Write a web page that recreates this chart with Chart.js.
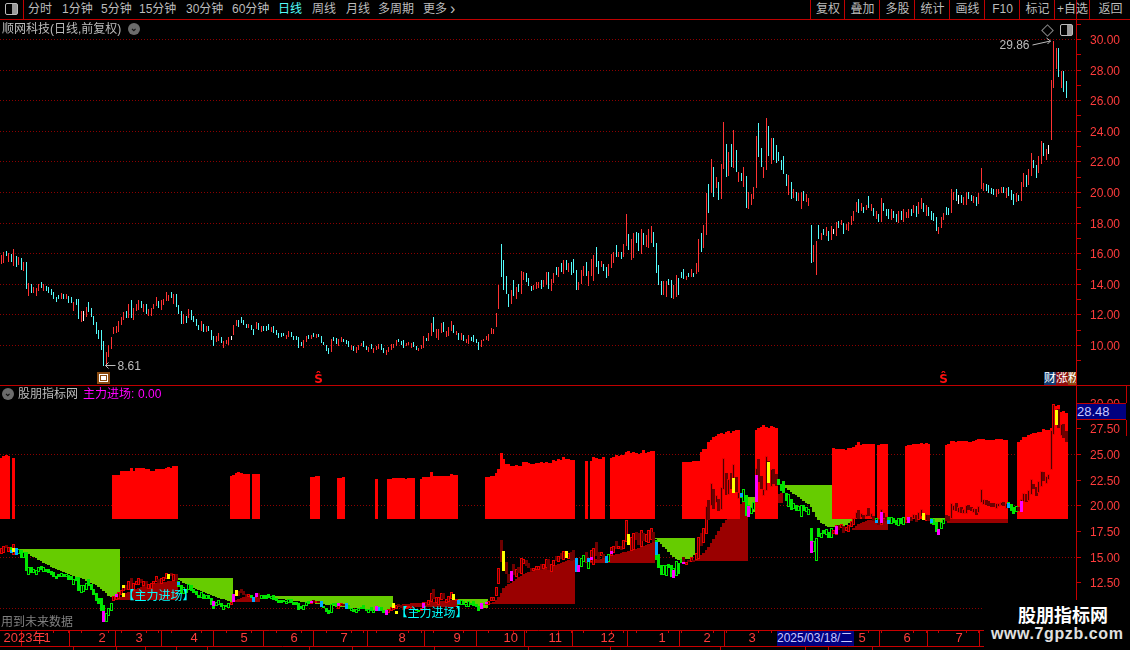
<!DOCTYPE html>
<html lang="zh"><head><meta charset="utf-8">
<script src="https://cdn.jsdelivr.net/npm/chart.js@4/dist/chart.umd.min.js"></script>
<style>
html,body{margin:0;padding:0;background:#000;overflow:hidden}
#w{position:relative;width:1130px;height:650px;background:#000;overflow:hidden;font:12px "Liberation Sans","Noto Sans CJK SC",sans-serif;color:#bcbcbc}
#w canvas{position:absolute;left:0}
.t{position:absolute;white-space:nowrap;line-height:14px}
.l{position:absolute;background:#c00000}
.c{position:absolute;width:12px;height:12px;border-radius:50%;background:#6c6c6c;color:#111;text-align:center;line-height:10px;font-size:9px;font-weight:bold}
</style></head><body><div id="w">
<canvas id="a" width="1130" height="365" style="top:20px"></canvas>
<canvas id="b" width="1130" height="264" style="top:386px"></canvas>
</div>
<script>
const high=[
15.88,16.08,16.14,15.99,15.94,16.27,15.81,15.73,15.66,15.42,
15.42,14.03,13.98,13.77,13.74,13.96,14.11,13.96,13.85,13.81,
13.64,13.48,13.16,13.30,13.40,13.33,13.35,13.20,13.11,12.81,
13.00,12.98,12.22,12.24,12.46,12.83,12.39,11.89,11.48,10.98,
10.98,10.26,9.54,10.00,10.52,11.17,11.24,11.56,11.80,12.13,
12.24,12.68,12.94,12.41,12.68,12.94,12.87,12.68,12.68,12.33,
12.41,12.68,13.13,12.87,12.92,13.00,13.46,13.26,13.46,13.33,
13.33,12.61,12.22,12.02,11.89,12.35,12.28,11.90,11.70,11.30,
11.57,11.37,11.24,11.24,10.98,10.58,10.58,10.78,10.52,10.26,
10.32,10.52,10.58,11.30,11.63,11.63,11.83,11.63,11.37,11.37,
11.30,11.04,11.50,11.43,11.24,11.24,11.24,11.37,11.17,11.24,
10.98,10.78,
10.76,10.78,10.65,10.91,10.85,10.61,10.59,10.52,10.19,10.33,
10.59,10.65,10.65,10.78,10.72,10.72,10.59,10.19,10.00,9.80,
10.39,10.52,10.46,10.39,10.52,10.37,10.35,10.26,10.00,9.93,
9.87,10.00,10.13,10.26,9.93,9.87,10.06,9.80,9.93,10.06,
10.06,9.80,9.67,9.87,10.06,10.06,10.33,10.39,10.26,10.33,
10.13,10.19,10.13,10.19,9.93,9.80,10.00,10.59,10.46,10.78,
11.44,11.83,11.04,11.04,11.44,11.50,10.91,11.17,11.57,11.31,
10.91,10.78,10.78,10.65,10.39,10.65,10.52,10.65,10.39,10.19,
10.33,10.39,10.59,10.72,11.11,11.04,12.09,13.92,16.60,15.56,
14.51,13.33,13.59,14.25,13.79,13.99,14.84,14.77,14.71,14.38,
13.86,13.90,14.12,14.12,14.25,14.25,14.77,14.77,14.31,14.71,
15.10,15.10,
15.35,15.55,15.55,15.38,15.42,15.62,14.90,14.11,14.90,15.16,
15.42,14.83,15.62,15.88,16.40,15.49,15.49,15.29,15.09,15.29,
15.94,16.07,16.53,16.07,16.07,16.60,18.56,17.25,16.92,17.32,
17.38,17.32,17.58,17.32,17.19,17.58,17.77,17.38,16.66,15.22,
14.18,14.18,14.18,14.31,14.24,13.92,14.57,14.40,14.77,14.96,
14.51,14.70,14.96,14.70,15.35,16.92,17.32,17.84,19.93,20.52,
22.15,21.63,20.98,20.65,21.83,24.57,23.13,22.61,23.13,24.05,
22.74,21.30,21.24,21.63,21.04,20.00,19.87,20.32,23.66,24.51,
22.87,21.63,24.83,24.31,23.53,23.53,23.07,22.60,22.09,22.35,
21.17,21.11,20.65,20.19,20.00,19.93,20.00,20.06,19.87,19.60,
17.84,16.53,16.79,17.84,17.32,17.58,17.71,17.45,17.77,17.58,
18.04,18.10,
18.17,17.98,17.91,18.04,18.43,18.76,19.35,19.55,19.28,19.02,
19.15,19.74,19.22,18.96,18.76,18.57,19.61,19.28,18.89,18.89,
18.89,18.76,18.57,18.76,18.76,18.89,18.70,18.89,18.89,19.15,
19.09,19.35,19.61,19.28,19.15,19.02,18.76,18.63,18.37,17.71,
18.37,18.63,19.02,18.96,20.20,20.00,20.20,19.81,19.81,19.68,
20.00,20.00,19.81,19.74,19.68,19.94,21.57,20.59,20.53,20.46,
20.25,20.20,20.20,20.20,20.33,20.33,20.26,20.33,20.13,19.87,
19.94,19.81,20.66,21.25,21.11,21.51,22.55,22.10,21.77,22.36,
23.34,23.21,22.81,23.08,27.30,29.86,29.40,29.39,27.93,27.90,
27.26];
const low=[
15.29,15.38,15.84,15.44,15.44,15.16,15.12,15.23,14.90,14.86,
13.64,13.22,13.37,13.42,13.22,13.55,13.74,13.55,13.53,13.42,
13.26,12.98,12.83,13.00,12.98,13.00,12.98,12.72,12.76,12.22,
12.61,11.70,11.50,11.57,11.80,12.18,11.80,11.30,10.71,10.37,
9.67,8.61,8.62,9.19,9.76,10.71,10.76,10.85,11.30,11.63,
11.78,11.78,11.74,11.63,12.22,12.28,12.44,12.15,12.02,11.89,
11.89,12.37,12.55,12.41,12.31,12.59,12.87,12.87,13.09,12.68,
12.50,12.04,11.37,11.37,11.43,11.74,11.63,11.50,11.24,10.98,
10.93,10.87,10.87,10.89,10.32,9.93,10.21,10.26,10.13,9.80,
10.06,9.97,10.32,10.65,11.24,11.17,11.43,11.30,11.11,11.11,
10.98,10.65,11.02,10.98,10.85,10.91,10.91,10.98,10.85,10.78,
10.67,10.48,
10.52,10.57,10.39,10.54,10.50,10.33,10.30,9.80,9.93,9.78,
10.19,10.37,10.37,10.50,10.46,10.52,10.13,10.00,9.61,9.41,
9.54,10.26,10.06,9.93,10.19,10.17,10.05,9.87,9.67,9.58,
9.48,9.67,9.93,9.87,9.67,9.54,9.74,9.48,9.67,9.74,
9.67,9.48,9.35,9.54,9.67,9.80,9.93,10.19,10.00,9.80,
9.93,10.00,9.80,9.87,9.67,9.61,9.74,9.80,10.26,10.26,
10.59,10.85,10.46,10.33,10.78,10.85,10.52,10.59,10.91,10.78,
10.65,10.33,10.33,10.26,10.13,10.06,10.26,10.19,10.13,9.67,
9.87,10.26,10.33,10.26,10.72,10.72,11.17,12.35,14.44,13.59,
13.33,12.48,12.68,13.20,13.01,13.46,13.33,14.25,14.12,13.86,
13.53,13.60,13.66,13.72,13.66,13.79,13.92,13.66,13.53,14.05,
14.57,14.44,
14.74,14.64,14.90,14.77,14.57,14.68,13.59,13.59,13.98,14.51,
14.51,13.85,14.51,14.18,15.09,14.64,15.09,14.83,14.37,14.51,
15.03,15.35,15.75,15.75,15.62,15.75,16.47,16.20,15.55,15.68,
16.66,16.14,15.94,16.53,16.40,16.34,16.66,16.40,14.70,13.92,
13.26,13.26,13.15,13.92,13.07,13.00,13.15,13.30,14.37,14.31,
14.24,14.44,14.44,14.44,14.64,14.77,16.07,16.34,17.19,18.62,
19.93,19.67,20.26,19.47,19.54,21.50,20.98,21.04,21.63,21.56,
21.30,20.65,20.71,20.32,18.95,18.88,19.15,19.54,20.26,22.28,
21.63,20.91,21.43,22.35,21.83,22.09,21.89,22.00,21.43,21.17,
20.39,19.80,19.54,19.60,19.41,19.41,18.88,19.41,19.34,19.08,
15.35,15.42,14.57,16.92,16.86,17.19,17.12,16.79,16.86,17.25,
17.12,17.64,
17.82,17.26,17.52,17.45,17.85,18.11,18.70,18.63,18.76,18.63,
18.83,18.96,18.76,18.43,18.24,18.04,18.04,18.76,18.43,18.24,
18.17,18.30,18.04,17.98,18.17,18.04,18.30,18.30,18.43,18.63,
18.37,18.57,18.89,18.70,18.43,18.43,18.17,18.11,17.45,17.26,
17.65,18.17,18.50,18.50,18.63,19.48,19.41,19.22,19.28,19.15,
19.15,19.55,19.41,19.28,19.09,19.22,20.20,20.07,20.07,19.94,
19.85,19.81,19.68,19.87,19.94,19.94,19.61,19.74,19.48,19.15,
19.35,19.41,19.41,20.33,20.33,20.46,21.05,21.57,20.92,21.25,
21.83,22.36,22.10,22.49,23.40,26.82,28.04,27.54,26.78,26.56,
26.17];
const tone=(
"rrcrcrcrcr"+"crcrrrcrcc"+"ccccrcrccr"+"ccrwrccccc"+"ccrrrrrrrr"+"crcrrrcrcr"+"rrrcrrrrcr"+"cccrcrcccc"+"rcrcccrrcr"+"rrwrrccccr"+"ccrcrcccrc"+"cc"+
"ccrrcccccr"+"rcrcrccccc"+"rccrrcccrc"+"rrrccrcrrr"+"ccrrrrrccc"+"rrrccrrrcr"+"rcrrrcrrrc"+"rcrcrrcccc"+"rrrrrrrrcc"+"ccrcrcrrcc"+"crrrcrrcrr"+"cr"+
"crcrcccrrr"+"crrrccrccr"+"rrcrcrrcrr"+"ccrcrrrccc"+"crrccrrccc"+"rcrcrrcrrc"+"rcrcrrcrcr"+"crcrcrrrrc"+"crrcrccccc"+"crcrcrrcrr"+"crrcrcrcrw"+"rc"+
"rcrrrrrcrc"+"rcrcrcrccc"+"rccrcrrrcr"+"crrcrccccr"+"rrccrrcwcr"+"rccrcrrrcc"+"ccrrrcrccc"+"rcrrcrrccr"+"rcrwrrrcrc"+"c").split("");

const columnBase=18.67;
const redRuns=[
[0,[24.6,24.8,24.9,24.8]],[5,[24.6]],
[45,[22.95,22.95,23.0,23.34,23.34,23.34,23.34,23.64,23.34,23.6,23.64,23.64,23.6,23.54,23.54,23.37,23.37,23.54,23.54,23.54,23.54,23.67,23.76,23.67,23.83,23.83]],
[92,[22.86,22.95,23.12,23.22,23.12,23.05,23.05,23.05]],[101,[23.05,23.05,23.05]],
[124,[22.76,22.76,22.86,22.86]],[135,[22.66,22.66,22.76]],[150,[22.56]],
[155,[22.56,22.56,22.66,22.66,22.66,22.66,22.66,22.56,22.66,22.66,22.66]],
[168,[22.53,22.8,22.8,22.8,23.25,22.86,22.9,22.9,22.86,22.86,22.86,22.9,23.05,22.95,22.95]],
[194,[22.79,22.79,22.85,22.85,23.11,23.54,25.06,24.51,24.02,24.02,23.83,23.83,23.92,23.83,23.83,24.18,24.18,24.1,24.05,24.05,24.1,24.12,24.18,24.12,24.25,24.1,24.1,24.41,24.3,24.5,24.41,24.67,24.5,24.55,24.45,24.41]],
[234,[24.31]],[236,[24.31,24.74,24.57,24.51,24.51,24.67]],
[244,[24.57,24.74,24.9,24.8,24.9,24.9,25.22,25.29,25.06,25.22,25.06,25.0,25.06,25.39,25.13,25.19,25.26,25.29]],
[273,[24.25,24.25,24.25,24.25,24.35,24.35,24.35,25.22,25.45,25.45,26.2,26.4,26.7,26.8,26.9,27.0,26.9,27.1,27.2,27.0,27.2,27.3,27.3]],
[302,[27.3,27.5,27.6,27.8,27.6,27.5,27.7,27.6,27.5]],
[333,[25.55,25.5,25.5,25.5,25.49,25.4,25.55,25.6,25.72,25.9,26.14,25.88,25.95,25.98,25.98,25.98,25.98]],
[351,[25.9,26.0,25.98,25.95]],
[362,[25.81,25.88,25.88,25.94,25.98,25.94,26.04,25.98,26.04,25.98]],
[378,[25.91,25.98,26.27,26.24,26.2,26.24,26.24,26.27,26.24,26.17,26.2,26.24,26.37,26.43,26.43,26.43,26.4,26.33,26.37,26.4,26.43,26.43,26.43,26.4,26.4]],
[407,[26.2,26.37,26.63,26.69,26.82,26.92,27.01,27.01,27.18,27.18,27.44,27.34,27.34,27.5,29.77,29.68,29.77,29.13,29.22,28.96]]
];
const greenRuns=[
[7,15.74,[15.71,15.61,15.48,15.39,15.25,15.09,14.96,14.83,14.67,14.54,14.41,14.28,14.15,14.02,13.86,13.76,13.66,13.57,13.47,13.37,13.27,13.21,13.14,13.05,12.95,12.89,12.79,12.66,12.56,12.46,12.33,12.20,12.07,11.88,11.65,11.42,11.20,11.03,10.90,10.81,10.77]],
[71,12.92,[12.72,12.59,12.46,12.33,12.20,12.07,11.94,11.85,11.75,11.65,11.55,11.46,11.36,11.26,11.16,11.07,11.00,10.90,10.84,10.77,10.68,10.61]],
[104,11.16,[11.10,11.08,11.05,11.03,10.99,10.96,10.92,10.90,10.88,10.84,10.80,10.77,10.75,10.71,10.68,10.65,10.62,10.58,10.55,10.52,10.48,10.45,10.44,10.40,10.37,10.35,10.30,10.28,10.25,10.22,10.18,10.15,10.13,10.10,10.08,10.05,10.03,10.00,9.98,9.96,9.93,9.92,9.90,9.88,9.85,9.85,9.83,9.82,9.80,9.80,9.78,9.78,9.77]],
[183,10.87,[10.81,10.71,10.61,10.51,10.42,10.32,10.22,10.13,10.06,10.00,9.96,9.96]],
[262,16.81,[16.68,16.46,16.23,15.97,15.71,15.45,15.19,14.96,14.80,14.67,14.67,14.67,14.74,14.80,14.93,15.16]],
[299,20.84,[19.87,19.70,19.38]],
[313,21.98,[21.82,21.66,21.49,21.30,21.11,20.98,20.78,20.59,20.46,20.26,20.10,19.81,19.38,18.90,18.57,18.31,18.15,18.02,17.92,17.89,17.86,17.86,17.89,17.92,17.99,18.12,18.31,18.51]],
[372,18.80,[18.5,18.45,18.41,18.41,18.41,18.5,18.6]]
];
const darkRuns=[
[47,10.77,[10.94,11.10,11.26,11.42,11.59,11.68,11.81,11.88,11.98,12.04,12.11,12.17,12.24,12.27,12.33,12.40,12.46,12.50,12.53,12.56,12.59,12.63,12.66,12.69]],
[93,10.55,[10.64,10.77,10.90,11.00,11.10,11.10,11.10,11.10,11.10,11.10,11.10]],
[157,10.13,[10.2,10.25,10.29,10.33,10.37,10.40,10.43,10.45,10.47,10.49,10.52,10.53,10.55,10.57,10.60,10.61,10.63,10.66,10.68,10.70,10.72,10.74,10.77,10.80,10.84,10.90]],
[195,10.38,[10.45,10.51,10.61,10.77,11.10,11.49,11.91,12.14,12.33,12.46,12.59,12.79,12.98,13.14,13.31,13.44,13.50,13.53,13.60,13.66,13.76,13.83,13.89,13.92,13.99,14.02,14.09,14.15,14.25,14.35,14.48,14.54,14.64,14.70,14.74]],
[234,14.38,[14.61,14.64,14.67,14.70,14.74,14.77,14.80,14.83,14.90,14.96,15.09,15.16,15.22,15.29,15.35,15.42,15.48,15.55,15.61,15.71,15.77,15.87,15.94,16.03,16.10,16.20,16.29,16.39]],
[278,14.61,[14.93,15.0,15.16,15.39,15.65,15.97,16.29,16.68,17.11,17.53,17.92,18.24,18.57,18.83,19.09,19.35,19.61,19.87,20.13,20.35,20.58]],
[302,20.26,[20.6,20.7,20.8,20.85,20.9,20.95,21.0,21.05,21.1,21.15,21.17]],
[341,17.60,[17.83,17.99,18.15,18.28,18.38,18.48,18.54,18.60,18.64,18.67,18.70,18.70,18.67,18.64]],
[379,18.31,[18.7,18.7,18.72,18.75,18.75,18.78,18.78,18.8,18.8,18.78,18.8,18.8,18.82,18.85,18.85,18.85,18.82,18.8,18.8,18.82,18.85,18.85,18.85,18.82]]
];
const yellowMarks=[[5,15.48,15.81],[49,11.91,12.24],[49,11.10,11.42],[67,12.85,13.31],[94,11.16,11.75],[157,9.96,10.45],[158,9.41,9.73],[181,10.77,11.36],[201,13.63,15.55],[226,14.87,15.55],[251,16.13,17.20],[293,21.20,22.66],[307,22.14,24.18],[369,18.57,19.22],[422,27.83,29.29]];
const magentaMarks=[[41,8.66,9.70],[46,11.03,11.36],[85,10.22,10.68],[93,10.61,11.36],[102,11.03,11.42],[124,10.45,10.68],[135,10.22,10.45],[150,9.73,10.19],[154,9.31,9.80],[169,9.96,10.45],[192,9.90,10.45],[194,10.38,10.61],[204,12.66,13.60],[231,13.53,14.18],[236,14.67,14.99],[244,15.26,15.55],[269,12.92,13.70],[273,14.25,14.51],[299,18.83,19.93],[302,20.35,22.95],[324,15.33,16.53],[334,17.18,18.02],[352,18.25,19.38],[363,18.25,18.83],[375,17.11,17.70],[408,19.38,20.42]];
const blueMarks=[[4,15.39,15.64],[6,15.16,15.81],[71,12.24,12.56],[101,10.61,11.10],[128,10.13,10.68],[138,9.90,10.45],[151,9.73,10.13],[183,10.38,10.77],[230,13.53,14.83],[235,14.51,14.83],[242,14.41,15.09],[262,15.16,16.46],[296,20.77,21.16],[350,18.25,18.57],[355,18.18,18.57],[372,18.25,18.64],[403,19.77,20.20]];
const topTicks=[9,10,11,12,13,14,15,16,17,18,19,20,21,22,23,24,25,26,27,28,29,30,31];
const topLabels=[10,12,14,16,18,20,22,24,26,28,30];
const lowTicks=[10,12.5,15,17.5,20,22.5,25,27.5,30];
const lowGrid=[10,15,20,25];
const monthIndex=[0,16,38,53,75,95,115,135,158,180,200,218,239,262,280,298,342,360,381];
const monthLabel=["2023年","1","2","3","4","5","6","7","8","9","10","11","12","1","2","3","5","6","7"];
const weekIndex=[21,27,32,43,48,58,63,68,80,85,90,100,105,110,120,125,130,140,145,150,163,168,173,185,190,195,205,210,223,228,233,244,249,254,267,272,285,290,303,308,347,352,365,370,375,386,391];
const signalIndex=[127,377];
const entryIndex=[63,172];
const entryPrice=[11.27,9.61];
const toolLeft=[[28,"分时"],[62,"1分钟"],[101,"5分钟"],[139,"15分钟"],[186,"30分钟"],[232,"60分钟"],[278,"日线"],[312,"周线"],[346,"月线"],[378,"多周期"],[423,"更多"]];
const toolRight=["复权","叠加","多股","统计","画线","F10","标记","+自选","返回"];
const toolEdges=[810,844,879,914,949,984,1019,1054,1089,1130];

const N=high.length;
const redTop=new Array(N).fill(null);
redRuns.forEach(([s,v])=>v.forEach((p,k)=>{redTop[s+k]=p}));
const RED="#c80000",AX="#ff3c3c",DOT="#8c0000";
const snap=(fx)=>function(s){if(s._snap)return;s._snap=1;const o=s.getPixelForValue.bind(s);s.getPixelForValue=(v,i)=>fx(o(v,i));};
const snapX=snap(p=>Math.floor(p)+.5),snapY=snap(p=>Math.round(p));
const zero=s=>{s.paddingLeft=s.paddingRight=s.paddingTop=s.paddingBottom=0};
const xScale=(extra)=>Object.assign({type:"linear",offset:false,min:-0.52,max:-0.52+1076/2.5,afterDataLimits:snapX},extra);
const bar=(data,w,color,order,extra)=>Object.assign({data,backgroundColor:color,grouped:false,barPercentage:3,categoryPercentage:1,maxBarThickness:w,borderWidth:0,order},extra||{});
const marks=(list)=>list.map(([i,a,b])=>({x:i,y:[a,b]}));
const baseOpts={responsive:false,animation:false,devicePixelRatio:1,events:[],layout:{padding:0},plugins:{legend:{display:false},tooltip:{enabled:false},title:{display:false}}};
const yAxis=(min,max,ticks,isGrid,isLabel)=>({position:"right",min,max,afterDataLimits:snapY,
 afterBuildTicks(s){s.ticks=ticks.map(v=>({value:v}))},afterFit(s){s.width=54;zero(s)},
 border:{color:RED,width:1,dash:[1,2]},
 grid:{color:c=>isGrid(c.tick.value)?DOT:"rgba(0,0,0,0)",lineWidth:1,tickColor:RED,tickLength:5,drawTicks:true},
 ticks:{color:AX,padding:9,labelOffset:2,autoSkip:false,font:{family:"Liberation Sans",size:12},callback:v=>isLabel(v)?v.toFixed(2):""}});

/* ---------- upper candles ---------- */
const toneColor={r:"#ff3232",c:"#54fcfc",w:"#ffffff"};
const annot={id:"annot",afterDatasetsDraw(ch){
 const c=ch.ctx,x=ch.scales.x,y=ch.scales.y;c.save();
 c.font='12px "Liberation Sans"';c.fillStyle="#bcbcbc";c.strokeStyle="#bcbcbc";c.lineWidth=1;
 const lo=low.indexOf(Math.min(...low)),hi=high.indexOf(Math.max(...high));
 const ly=y.getPixelForValue(low[lo])-0.5,lx=x.getPixelForValue(lo);
 c.textAlign="left";c.textBaseline="middle";c.fillText(low[lo].toFixed(2),lx+14,ly+1);
 c.beginPath();c.moveTo(lx+12,ly);c.lineTo(lx+2,ly);c.moveTo(lx+5,ly-3);c.lineTo(lx+2,ly);c.lineTo(lx+5,ly+3);c.stroke();
 const hy=y.getPixelForValue(high[hi]),hx=x.getPixelForValue(hi);
 c.textAlign="right";c.fillText(high[hi].toFixed(2),hx-24,hy+5);
 c.beginPath();c.moveTo(hx-21,hy+4);c.lineTo(hx-3,hy);c.moveTo(hx-7,hy-3);c.lineTo(hx-3,hy);c.lineTo(hx-6,hy+3);c.stroke();
 c.fillStyle="#ff1010";c.font='bold 12px "DejaVu Sans"';c.textAlign="center";
 signalIndex.forEach(i=>c.fillText("Ŝ",x.getPixelForValue(i),ch.chartArea.bottom-5));
 const sx=Math.floor(lx)-6,sy=ch.chartArea.bottom-13;
 c.fillStyle="#8a4a10";c.fillRect(sx,sy,13,12);c.fillStyle="#fff";c.fillRect(sx+2,sy+2,9,8);c.fillStyle="#8a4a10";c.fillRect(sx+3,sy+3,7,6);c.fillStyle="#fff";c.fillRect(sx+4,sy+4,5,4);
 c.restore();}};
new Chart(document.getElementById("a"),{type:"bar",plugins:[annot],
 data:{datasets:[bar(high.map((h,i)=>({x:i,y:[low[i],h]})),1,tone.map(t=>toneColor[t]),1)]},
 options:Object.assign({},baseOpts,{scales:{x:xScale({display:false}),
  y:yAxis(30-(385-39)/15.3,30+(39-20)/15.3,topTicks,v=>topLabels.includes(v)&&v<=30,v=>topLabels.includes(v))}})});

/* ---------- lower indicator ---------- */
const solid=tone.map(t=>t==="c");
const candleBorder=redTop.map((v,i)=>v!==null?(solid[i]?"#6e0000":"#e60000"):"#00e600");
const candleFill=redTop.map((v,i)=>v!==null?(solid[i]?"#6e0000":"#4a0000"):(solid[i]?"#00e600":"#000000"));
const lowAnnot={id:"lowAnnot",afterDatasetsDraw(ch){
 const c=ch.ctx,x=ch.scales.x,y=ch.scales.yb;c.save();
 c.fillStyle="#00ffff";c.textAlign="center";c.textBaseline="middle";
 entryIndex.forEach((i,k)=>{const px=x.getPixelForValue(i),py=y.getPixelForValue(entryPrice[k]);
  c.font='12px "Noto Sans CJK SC"';c.fillText("主力进场",px,py);
  c.font='bold 12px "Noto Sans CJK SC"';c.fillText("【",px-30,py);c.fillText("】",px+30,py);});
 c.restore();},
 afterDraw(ch){const c=ch.ctx,x=ch.scales.x,b=ch.chartArea.bottom;c.save();c.strokeStyle=RED;c.beginPath();
  weekIndex.forEach(i=>{const p=x.getPixelForValue(i);c.moveTo(p,b);c.lineTo(p,b+3);});
  c.moveTo(0,b+16.5);c.lineTo(1130,b+16.5);c.stroke();c.restore();}};
new Chart(document.getElementById("b"),{type:"bar",plugins:[lowAnnot],
 data:{datasets:[
  bar(marks(yellowMarks),3,"#ffff00",1,{yAxisID:"yb"}),
  bar(marks(magentaMarks),3,"#ff00ff",1,{yAxisID:"yb"}),
  bar(marks(blueMarks),3,"#00a8ff",1,{yAxisID:"yb"}),
  bar(high.map((h,i)=>({x:i,y:[low[i],h]})),3,candleFill,2,{yAxisID:"yb",borderColor:candleBorder,borderWidth:1,borderSkipped:false}),
  bar(redTop.map((v,i)=>({x:i,y:v===null?null:[columnBase,v]})).filter(d=>d.y),3,"#ff0000",3,{yAxisID:"yb"}),
  bar(darkRuns.flatMap(([s,b,t])=>t.map((v,k)=>({x:s+k,y:[b,v]}))),3,"#9a0000",4,{yAxisID:"yb"}),
  bar(greenRuns.flatMap(([s,t,b])=>b.map((v,k)=>({x:s+k,y:[v,t]}))),3,"#66cc00",5,{yAxisID:"yb"})
 ]},
 options:Object.assign({},baseOpts,{scales:{
  x:xScale({position:"bottom",afterBuildTicks(s){s.ticks=monthIndex.map(v=>({value:v}))},afterFit(s){s.height=20;zero(s)},
   border:{color:RED,width:1},grid:{drawOnChartArea:false,tickColor:RED,tickLength:16},
   ticks:{color:AX,align:"start",padding:-15,labelOffset:2,autoSkip:false,maxRotation:0,font:{family:"Liberation Sans, Noto Sans CJK SC",size:13},
    callback:v=>monthLabel[monthIndex.indexOf(v)]??""}}),
  yb:yAxis(25-(630-454)/10.27,25+(454-386)/10.27,lowTicks,v=>lowGrid.includes(v),v=>v>=10)
 }})});

/* ---------- terminal chrome ---------- */
const w=document.getElementById("w");
function text(x,y,s,color,extra){const e=document.createElement("div");e.className="t";e.textContent=s;e.style.left=x+"px";e.style.top=y+"px";e.style.color=color||"#bcbcbc";Object.assign(e.style,extra||{});w.appendChild(e);return e;}
function line(x,y,wd,h,color){const e=document.createElement("div");e.className="l";e.style.cssText+=`left:${x}px;top:${y}px;width:${wd}px;height:${h}px;`+(color?`background:${color};`:"");w.appendChild(e);return e;}
line(0,19,1130,1);line(23,0,1,19);line(0,385,1130,1);line(1076,0,1,20);
toolLeft.forEach(([x,s])=>text(x,2,s,s==="日线"?"#54fcfc":"#bcbcbc"));
text(450,2,"›","#bcbcbc",{fontSize:"16px"});
toolRight.forEach((s,i)=>{line(toolEdges[i],0,1,19);const cw=toolEdges[i+1]-toolEdges[i];text(toolEdges[i]+1,2,s,"#bcbcbc",{width:cw+"px",textAlign:"center"});});
const ic=document.createElement("div");ic.style.cssText="position:absolute;left:5px;top:3px;width:11px;height:10px;border:1px solid #bcbcbc;border-radius:2px;background:linear-gradient(90deg,#000 55%,#999 55%)";w.appendChild(ic);
const ic2=ic.cloneNode();ic2.style.left="1060px";ic2.style.top="24px";w.appendChild(ic2);
const dm=document.createElement("div");dm.style.cssText="position:absolute;left:1043px;top:26px;width:7px;height:7px;border:1px solid #888;transform:rotate(45deg)";w.appendChild(dm);
text(2,22,"顺网科技(日线,前复权)","#bcbcbc");
const c1=document.createElement("div");c1.className="c";c1.textContent="⌄";c1.style.left="128px";c1.style.top="23px";w.appendChild(c1);
const c2=c1.cloneNode(true);c2.style.left="2px";c2.style.top="388px";w.appendChild(c2);
text(18,387,"股朋指标网","#bcbcbc");
text(83,387,"主力进场:","#ff00ff");
text(138,387,"0.00","#ff00ff");
text(1,615,"用到未来数据","#808080");
[[1044,"财","#103a70"],[1056,"涨","#8a1010"],[1068,"粉","#8a4a10"]].forEach(([x,s,bg],i)=>{text(x,372,s,"#ffffff",{background:bg,width:i==2?"8px":"12px",height:"13px",overflow:"hidden",lineHeight:"13px"});});
const v=text(1077,403,"28.48","#c8c8ff",{background:"#000080",width:"49px",height:"15px",lineHeight:"15px",borderTop:"1px solid #c00000",borderBottom:"1px solid #c00000",fontSize:"13px"});
line(1126,386,1,17);line(1126,420,1,16);
text(777,631,"2025/03/18/二","#c8c8ff",{background:"#000080",width:"77px",height:"15px",lineHeight:"15px",fontSize:"12px",overflow:"hidden"});
[73,116,145,176,207,309,352,434,528,610,720,805,828,872].forEach(x=>line(x,647,1,3));
const wm=document.createElement("div");wm.style.cssText="position:absolute;left:984px;top:600px;width:146px;height:50px;background:#000";w.appendChild(wm);
text(1018,604,"股朋指标网","#ffffff",{fontSize:"18px",lineHeight:"20px",fontWeight:"bold",fontFamily:'"Noto Sans CJK SC"'});
text(991,625,"www.7gpzb.com","#e0e0e0",{fontSize:"16px",lineHeight:"18px",fontWeight:"bold",letterSpacing:".6px",fontFamily:'"Liberation Sans"'});
</script></body></html>
